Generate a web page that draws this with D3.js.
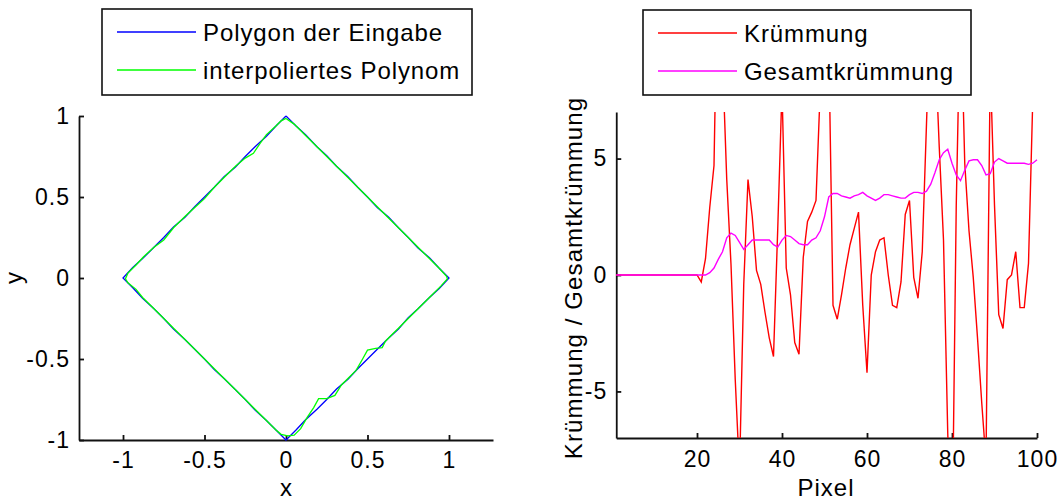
<!DOCTYPE html>
<html>
<head>
<meta charset="utf-8">
<script src="https://cdnjs.cloudflare.com/ajax/libs/d3/7.8.5/d3.min.js"></script>
<style>
  body { margin: 0; background: #fff; }
  svg { display: block; font-family: "Liberation Sans", Arial, sans-serif; }
</style>
</head>
<body>
<svg id="chart" width="1062" height="502"></svg>
<script>
// left plot: digitized input polygon (x, y)
var polygonPts = [
  [0, 1], [0.06, 0.94], [0.12, 0.885], [0.19, 0.81], [0.25, 0.755], [0.31, 0.69], [0.38, 0.625],
  [0.44, 0.56], [0.5, 0.5], [0.56, 0.435], [0.63, 0.375], [0.69, 0.31], [0.75, 0.25], [0.81, 0.185],
  [0.88, 0.125], [0.94, 0.06], [1, 0],
  [0.94, -0.065], [0.88, -0.12], [0.81, -0.19], [0.75, -0.245], [0.69, -0.315], [0.63, -0.37],
  [0.56, -0.44], [0.5, -0.5], [0.44, -0.56], [0.38, -0.625], [0.31, -0.685], [0.25, -0.75],
  [0.19, -0.81], [0.12, -0.875], [0.06, -0.94], [0, -1],
  [-0.06, -0.94], [-0.12, -0.88], [-0.19, -0.815], [-0.25, -0.75], [-0.31, -0.69], [-0.38, -0.62],
  [-0.44, -0.565], [-0.5, -0.5], [-0.56, -0.44], [-0.62, -0.38], [-0.69, -0.315], [-0.75, -0.25],
  [-0.81, -0.19], [-0.88, -0.125], [-0.94, -0.06], [-1, 0],
  [-0.94, 0.065], [-0.88, 0.12], [-0.81, 0.19], [-0.75, 0.25], [-0.69, 0.315], [-0.62, 0.375],
  [-0.56, 0.44], [-0.5, 0.5], [-0.44, 0.56], [-0.38, 0.625], [-0.31, 0.685], [-0.25, 0.75],
  [-0.19, 0.81], [-0.12, 0.875], [-0.06, 0.94], [0, 1]
];

// left plot: interpolated polynomial (x, y)
var interpPts = [
  [0, 0.985], [0.05, 0.95], [0.12, 0.88], [0.19, 0.81], [0.25, 0.75], [0.31, 0.69], [0.38, 0.62],
  [0.44, 0.56], [0.5, 0.5], [0.56, 0.44], [0.62, 0.38], [0.69, 0.31], [0.75, 0.25], [0.81, 0.19],
  [0.88, 0.12], [0.94, 0.06], [0.985, 0.01], [0.99, -0.005],
  [0.95, -0.05], [0.88, -0.12], [0.81, -0.19], [0.75, -0.25], [0.69, -0.31], [0.64, -0.36],
  [0.61, -0.39], [0.59, -0.43], [0.55, -0.435], [0.5, -0.445], [0.47, -0.5], [0.43, -0.57],
  [0.38, -0.62], [0.34, -0.66], [0.3, -0.725], [0.25, -0.745], [0.2, -0.745], [0.17, -0.8],
  [0.13, -0.86], [0.09, -0.93], [0.05, -0.97], [0.01, -0.975],
  [-0.03, -0.965], [-0.06, -0.94], [-0.12, -0.88], [-0.19, -0.81], [-0.25, -0.75], [-0.31, -0.69],
  [-0.38, -0.62], [-0.44, -0.56], [-0.5, -0.5], [-0.56, -0.44], [-0.62, -0.38], [-0.69, -0.31],
  [-0.75, -0.25], [-0.81, -0.19], [-0.88, -0.12], [-0.92, -0.07], [-0.97, -0.03], [-0.985, -0.005],
  [-0.97, 0.03], [-0.92, 0.08], [-0.875, 0.13], [-0.81, 0.19], [-0.75, 0.235], [-0.69, 0.31],
  [-0.62, 0.38], [-0.56, 0.435], [-0.5, 0.49], [-0.44, 0.56], [-0.38, 0.62], [-0.31, 0.69],
  [-0.25, 0.74], [-0.2, 0.77], [-0.16, 0.83], [-0.12, 0.885], [-0.06, 0.94], [-0.03, 0.97], [0, 0.985]
];

// right plot: curvature per pixel 1..100
var kruemmung = [
  0, 0, 0, 0, 0, 0, 0, 0, 0, 0,
  0, 0, 0, 0, 0, 0, 0, 0, 0, 0,
  -0.3, 0.7, 2.9, 4.7, 15, 9.3, 4.1, 0.45, -4.5, -8.5,
  -0.4, 4.1, 2.5, 0.2, -0.4, -1.6, -2.7, -3.5, 2.0, 8,
  0.3, -0.85, -2.9, -3.4, 0.75, 2.3, 2.7, 3.2, 8, 12,
  10, -1.3, -1.9, -0.85, 0.3, 1.3, 2.0, 2.7, -1.3, -4.2,
  0.0, 1.0, 1.5, 1.6, 0.0, -1.3, -1.4, -0.3, 2.6, 3.2,
  -0.1, -1.0, 1.0, 6.5, 12, 10, 5.5, 1.5, -6.8, -12,
  3, 12, 4.8, 1.9, -0.1, -2.7, -5.5, -8, 9, 3.0,
  -1.7, -2.3, -0.2, 0.0, 1.0, -1.4, -1.4, 0.5, 7.5, 10
];

// right plot: total curvature per pixel 1..100
var gesamtKruemmung = [
  0, 0, 0, 0, 0, 0, 0, 0, 0, 0,
  0, 0, 0, 0, 0, 0, 0, 0, 0, 0,
  0, 0, 0.1, 0.3, 0.67, 1.0, 1.6, 1.8, 1.7, 1.4,
  1.1, 1.3, 1.5, 1.5, 1.5, 1.5, 1.5, 1.3, 1.2, 1.5,
  1.7, 1.65, 1.5, 1.35, 1.3, 1.3, 1.5, 1.6, 1.9, 2.5,
  3.35, 3.5, 3.5, 3.4, 3.35, 3.3, 3.4, 3.45, 3.55, 3.4,
  3.3, 3.2, 3.3, 3.45, 3.45, 3.4, 3.35, 3.3, 3.3, 3.45,
  3.55, 3.55, 3.5, 3.6, 3.9, 4.4, 4.95, 5.25, 5.4, 4.8,
  4.3, 4.05, 4.5, 4.9, 4.95, 4.95, 4.7, 4.3, 4.35, 4.85,
  5.0, 4.9, 4.8, 4.8, 4.8, 4.8, 4.8, 4.75, 4.8, 4.95
];

var leftTicks = [-1, -0.5, 0, 0.5, 1];
var pixelTicks = [20, 40, 60, 80, 100];
var curvTicks = [-5, 0, 5];

var leftLegend = [["Polygon der Eingabe", "#0000ff"], ["interpoliertes Polynom", "#00ff00"]];
var rightLegend = [["Krümmung", "#ff0000"], ["Gesamtkrümmung", "#ff00ff"]];

var svg = d3.select("#chart");

function styleAxis(g) {
  g.attr("font-family", null).attr("font-size", null);
  g.select(".domain").attr("stroke", "#111").attr("stroke-width", 1.8);
  g.selectAll(".tick line").attr("stroke", "#111").attr("stroke-width", 1.8);
  g.selectAll(".tick text").attr("fill", "#000")
    .style("font-size", "23px").style("letter-spacing", "1px");
} // styleAxis

function addLegend(x, y, w, h, items) {
  var g = svg.append("g");
  g.append("rect")
    .attr("x", x).attr("y", y).attr("width", w).attr("height", h)
    .attr("fill", "#fff").attr("stroke", "#111").attr("stroke-width", 1.6);
  items.forEach(function(item, i) {
    var cy = y + 23 + i * 38;
    g.append("line")
      .attr("x1", x + 15).attr("x2", x + 94)
      .attr("y1", cy).attr("y2", cy)
      .attr("stroke", item[1]).attr("stroke-width", 1.5);
    g.append("text")
      .attr("x", x + 101).attr("y", cy + 8.5)
      .style("font-size", "24px").style("letter-spacing", "0.9px")
      .attr("fill", "#000")
      .text(item[0]);
  });
} // addLegend

// ---------- left plot ----------
var lx = d3.scaleLinear().domain([-1.27, 1.27]).range([79, 493]);
var ly = d3.scaleLinear().domain([-1, 1]).range([440, 116]);
var fmt = function(d) { return String(d); };

svg.append("g").attr("transform", "translate(0,440)")
  .call(d3.axisBottom(lx).tickValues(leftTicks).tickFormat(fmt)
    .tickSizeInner(-5).tickSizeOuter(0).tickPadding(12))
  .call(styleAxis);
svg.append("g").attr("transform", "translate(79,0)")
  .call(d3.axisLeft(ly).tickValues(leftTicks).tickFormat(fmt)
    .tickSizeInner(-5).tickSizeOuter(0).tickPadding(9))
  .call(styleAxis);

var pathL = d3.line().x(function(d) { return lx(d[0]); }).y(function(d) { return ly(d[1]); });
svg.append("path").datum(polygonPts).attr("d", pathL)
  .attr("fill", "none").attr("stroke", "#0000ff").attr("stroke-width", 1.3);
svg.append("path").datum(interpPts).attr("d", pathL)
  .attr("fill", "none").attr("stroke", "#00ff00").attr("stroke-width", 1.3);

svg.append("text").attr("x", 286).attr("y", 496).attr("text-anchor", "middle")
  .style("font-size", "24px").text("x");
svg.append("text").attr("transform", "translate(22,278) rotate(-90)").attr("text-anchor", "middle")
  .style("font-size", "24px").text("y");

addLegend(102, 9, 370, 86, leftLegend);

// ---------- right plot ----------
var rx = d3.scaleLinear().domain([1, 100]).range([616.25, 1037]);
var ry = d3.scaleLinear().domain([-7, 7]).range([438, 112]);

svg.append("defs").append("clipPath").attr("id", "clipR")
  .append("rect").attr("x", 616).attr("y", 112).attr("width", 422).attr("height", 326);

svg.append("g").attr("transform", "translate(0,438)")
  .call(d3.axisBottom(rx).tickValues(pixelTicks).tickFormat(fmt)
    .tickSizeInner(-5).tickSizeOuter(0).tickPadding(13))
  .call(styleAxis);
svg.append("g").attr("transform", "translate(616.25,0)")
  .call(d3.axisLeft(ry).tickValues(curvTicks).tickFormat(fmt)
    .tickSizeInner(-5).tickSizeOuter(0).tickPadding(9))
  .call(styleAxis);

var pathR = d3.line().x(function(d, i) { return rx(i + 1); }).y(function(d) { return ry(d); });
var plotR = svg.append("g").attr("clip-path", "url(#clipR)");
plotR.append("path").datum(kruemmung).attr("d", pathR)
  .attr("fill", "none").attr("stroke", "#ff0000").attr("stroke-width", 1.4);
plotR.append("path").datum(gesamtKruemmung).attr("d", pathR)
  .attr("fill", "none").attr("stroke", "#ff00ff").attr("stroke-width", 1.4);

svg.append("text").attr("x", 826).attr("y", 496).attr("text-anchor", "middle")
  .style("font-size", "24px").style("letter-spacing", "1px").text("Pixel");
svg.append("text").attr("transform", "translate(582,278) rotate(-90)").attr("text-anchor", "middle")
  .style("font-size", "24px").style("letter-spacing", "1.1px").text("Krümmung / Gesamtkrümmung");

addLegend(643, 10, 328, 85, rightLegend);
</script>
</body>
</html>
